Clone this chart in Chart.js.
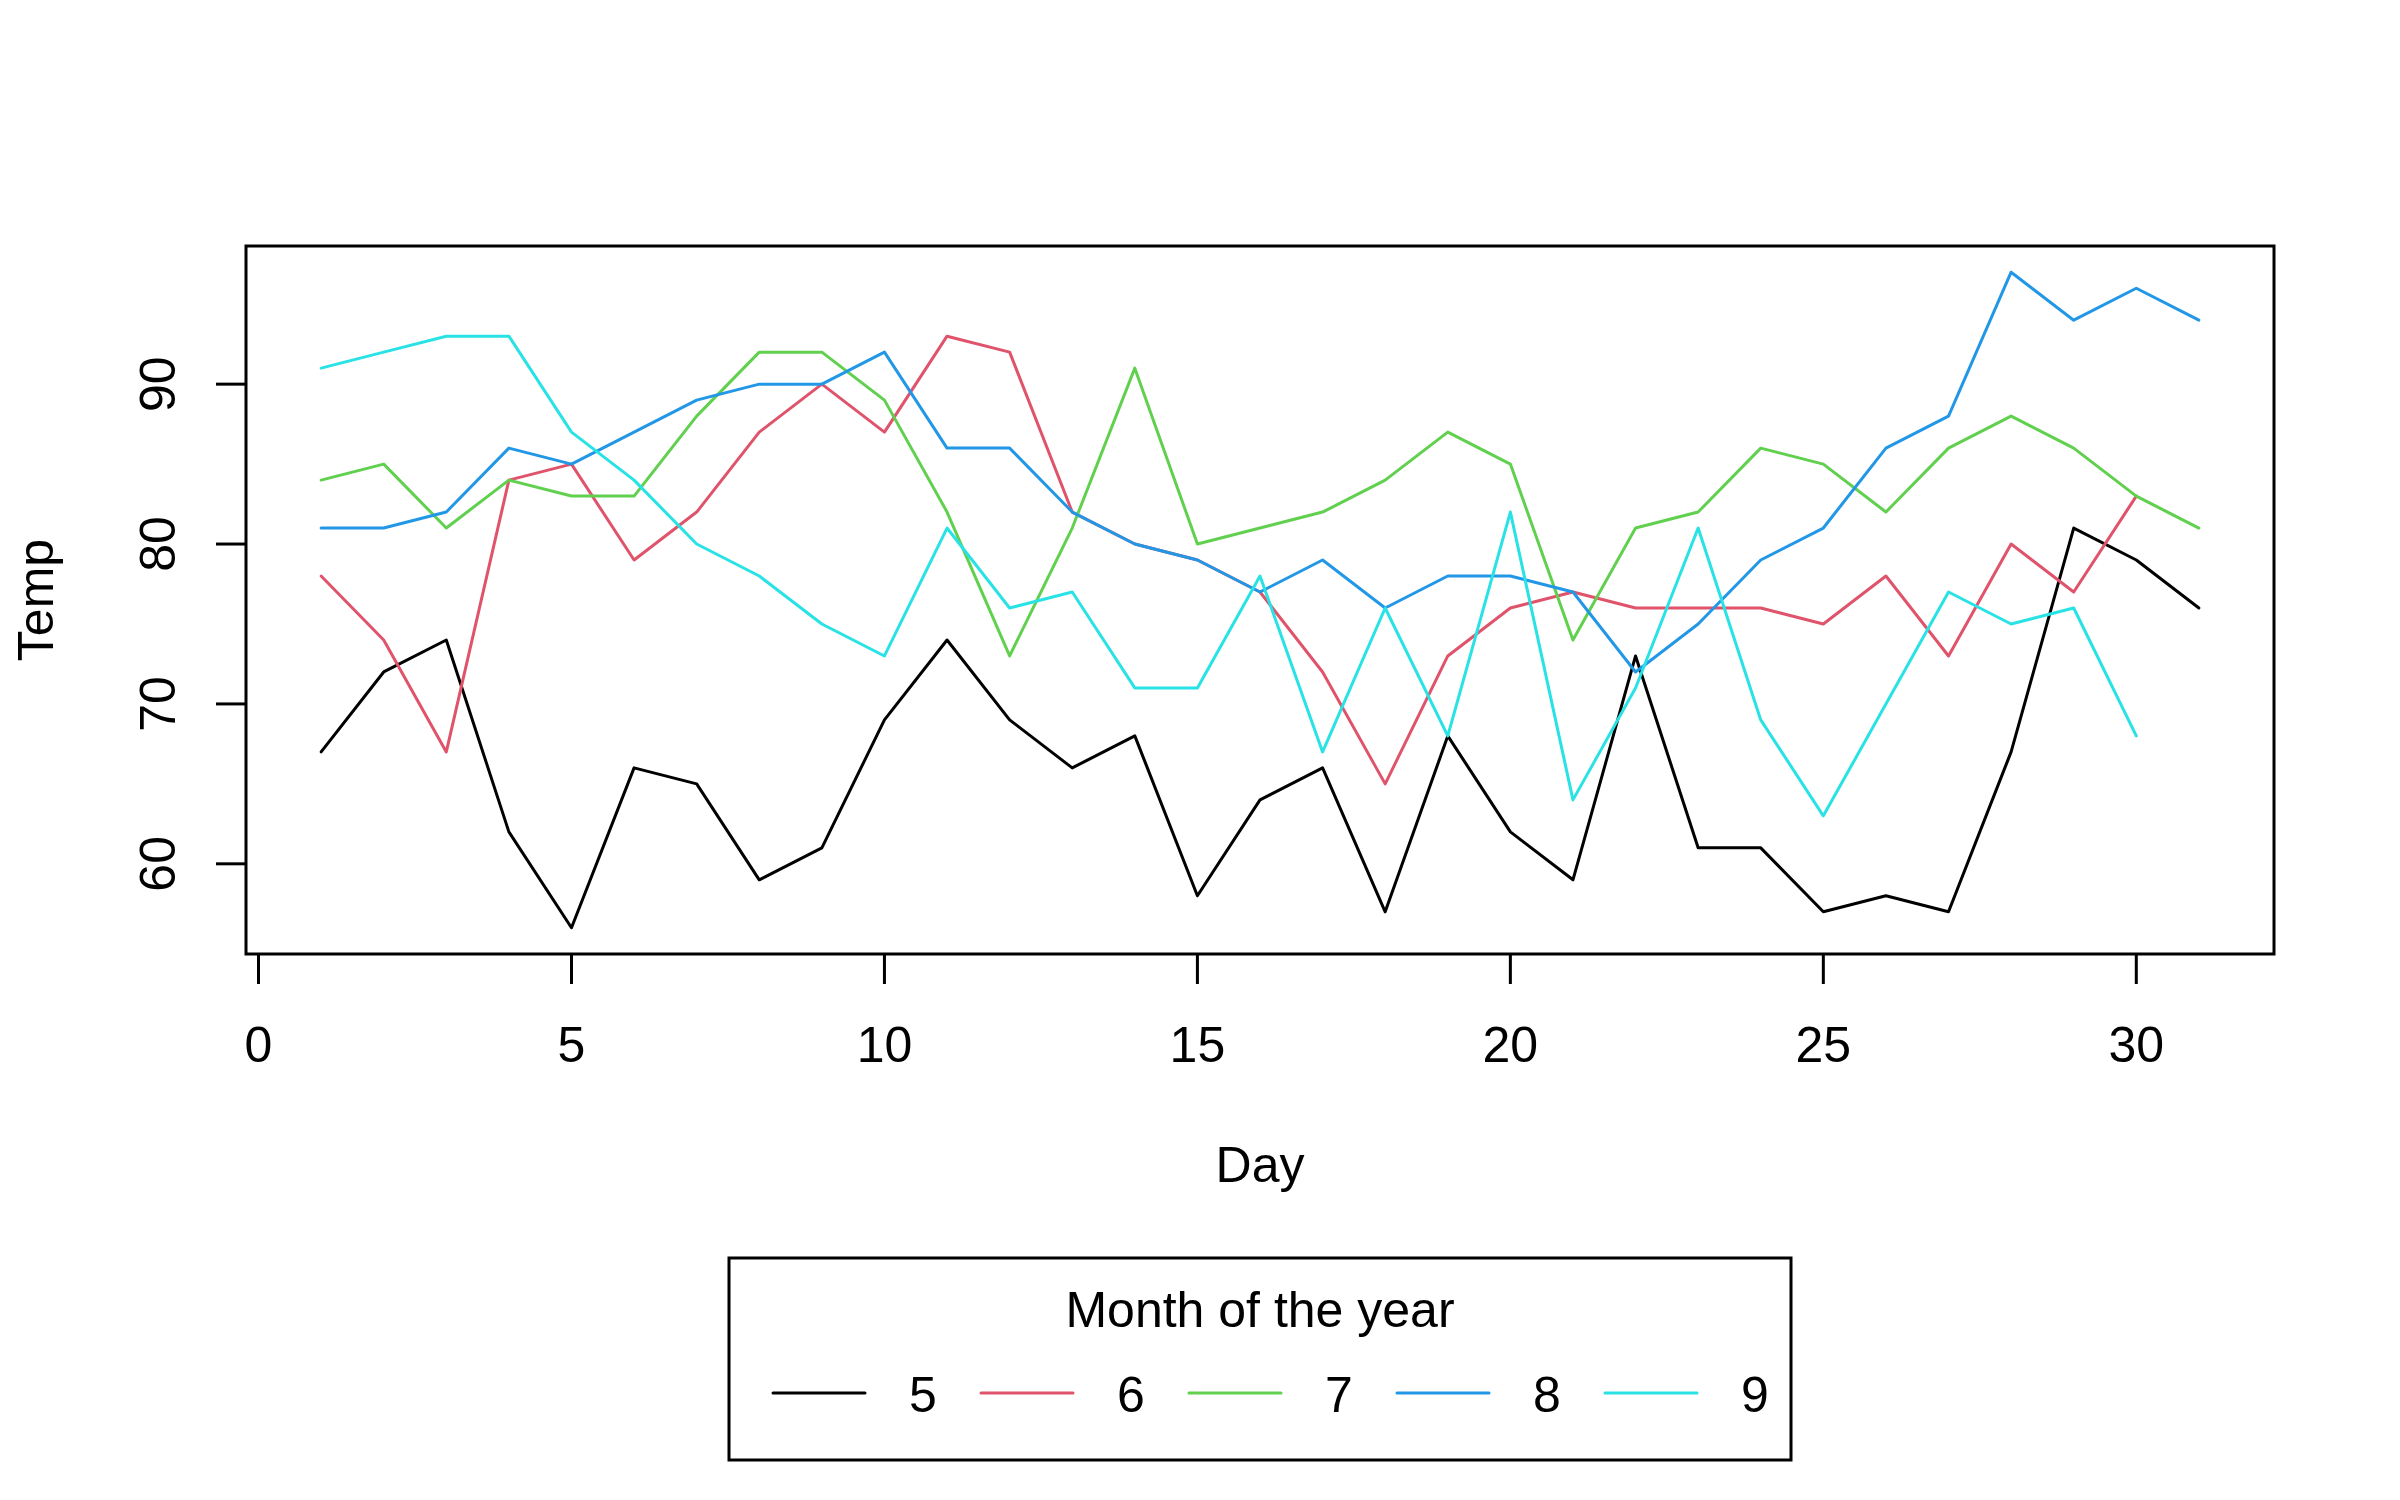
<!DOCTYPE html>
<html>
<head>
<meta charset="utf-8">
<script src="https://cdn.jsdelivr.net/npm/chart.js@4.4.1/dist/chart.umd.min.js"></script>
<style>
  html, body { margin: 0; padding: 0; background: #ffffff; }
  #wrap { width: 2400px; height: 1500px; }
  canvas { display: block; }
</style>
</head>
<body>
<div id="wrap"><canvas id="c" width="2400" height="1500" style="width:2400px;height:1500px"></canvas></div>
<script>
// ---- data (airquality: Temp by Day, per Month) ----
const days = [1,2,3,4,5,6,7,8,9,10,11,12,13,14,15,16,17,18,19,20,21,22,23,24,25,26,27,28,29,30,31];
const tempMay = [67,72,74,62,56,66,65,59,61,69,74,69,66,68,58,64,66,57,68,62,59,73,61,61,57,58,57,67,81,79,76];
const tempJun = [78,74,67,84,85,79,82,87,90,87,93,92,82,80,79,77,72,65,73,76,77,76,76,76,75,78,73,80,77,83];
const tempJul = [84,85,81,84,83,83,88,92,92,89,82,73,81,91,80,81,82,84,87,85,74,81,82,86,85,82,86,88,86,83,81];
const tempAug = [81,81,82,86,85,87,89,90,90,92,86,86,82,80,79,77,79,76,78,78,77,72,75,79,81,86,88,97,94,96,94];
const tempSep = [91,92,93,93,87,84,80,78,75,73,81,76,77,71,71,78,67,76,68,82,64,71,81,69,63,70,77,75,76,68];
const monthLabels = ['5','6','7','8','9'];
const monthColors = ['#000000','#DF536B','#61D04F','#2297E6','#28E2E5'];
const xTickValues = [0,5,10,15,20,25,30];
const yTickValues = [60,70,80,90];
const xTitle = 'Day';
const yTitle = 'Temp';
const legendTitle = 'Month of the year';

const series = [tempMay, tempJun, tempJul, tempAug, tempSep];
const FONT = '"Liberation Sans", Arial, Helvetica, sans-serif';

const datasets = series.map((vals, i) => ({
  label: monthLabels[i],
  data: vals.map((v, j) => ({ x: days[j], y: v })),
  borderColor: monthColors[i],
  backgroundColor: monthColors[i],
  borderWidth: 3,
  pointRadius: 0,
  pointHoverRadius: 0,
  tension: 0,
  fill: false,
  borderCapStyle: 'round',
  borderJoinStyle: 'round',
  order: series.length - i
}));

const rDecor = {
  id: 'rDecor',
  afterDraw(chart) {
    const ctx = chart.ctx;
    const { left, top, right, bottom } = chart.chartArea;
    const xs = chart.scales.x, ys = chart.scales.y;
    ctx.save();
    ctx.strokeStyle = '#000';
    ctx.fillStyle = '#000';
    ctx.lineWidth = 3;
    ctx.lineCap = 'butt';
    // plot box
    ctx.strokeRect(left, top, right - left, bottom - top);
    ctx.font = '50px ' + FONT;
    // x ticks
    ctx.textAlign = 'center';
    ctx.textBaseline = 'alphabetic';
    xs.ticks.forEach(t => {
      const px = xs.getPixelForValue(t.value);
      ctx.beginPath(); ctx.moveTo(px, bottom); ctx.lineTo(px, bottom + 30); ctx.stroke();
      ctx.fillText(t.label !== undefined ? String(t.label) : String(t.value), px, bottom + 108);
    });
    // y ticks
    ys.ticks.forEach(t => {
      const py = ys.getPixelForValue(t.value);
      ctx.beginPath(); ctx.moveTo(left - 30, py); ctx.lineTo(left, py); ctx.stroke();
      ctx.save();
      ctx.translate(left - 71, py);
      ctx.rotate(-Math.PI / 2);
      ctx.fillText(t.label !== undefined ? String(t.label) : String(t.value), 0, 0);
      ctx.restore();
    });
    // axis titles
    const cx = (left + right) / 2, cy = (top + bottom) / 2;
    ctx.fillText(xTitle, cx, bottom + 228);
    ctx.save();
    ctx.translate(left - 193, cy);
    ctx.rotate(-Math.PI / 2);
    ctx.fillText(yTitle, 0, 0);
    ctx.restore();
    // legend
    const lgL = 729, lgT = 1258, lgR = 1791, lgB = 1460;
    ctx.strokeRect(lgL, lgT, lgR - lgL, lgB - lgT);
    ctx.fillText(legendTitle, (lgL + lgR) / 2, 1327);
    chart.data.datasets.forEach((ds, i) => {
      const sx = 773 + i * 208;
      ctx.strokeStyle = ds.borderColor;
      ctx.lineCap = 'round';
      ctx.beginPath(); ctx.moveTo(sx, 1393); ctx.lineTo(sx + 92, 1393); ctx.stroke();
      ctx.fillText(ds.label, sx + 150, 1412);
    });
    ctx.restore();
  }
};

new Chart(document.getElementById('c'), {
  type: 'line',
  data: { datasets },
  options: {
    responsive: false,
    animation: false,
    devicePixelRatio: 1,
    layout: { padding: { top: 246, right: 126, left: 0, bottom: 0 } },
    plugins: { legend: { display: false }, tooltip: { enabled: false }, title: { display: false } },
    scales: {
      x: {
        type: 'linear',
        min: -0.2, max: 32.2,
        grid: { display: false },
        border: { display: false },
        ticks: { display: false },
        afterBuildTicks: s => { s.ticks = xTickValues.map(v => ({ value: v })); },
        afterFit: s => { s.height = 546; }
      },
      y: {
        type: 'linear',
        min: 54.36, max: 98.64,
        grid: { display: false },
        border: { display: false },
        ticks: { display: false },
        afterBuildTicks: s => { s.ticks = yTickValues.map(v => ({ value: v })); },
        afterFit: s => { s.width = 246; }
      }
    }
  },
  plugins: [rDecor]
});
</script>
</body>
</html>
